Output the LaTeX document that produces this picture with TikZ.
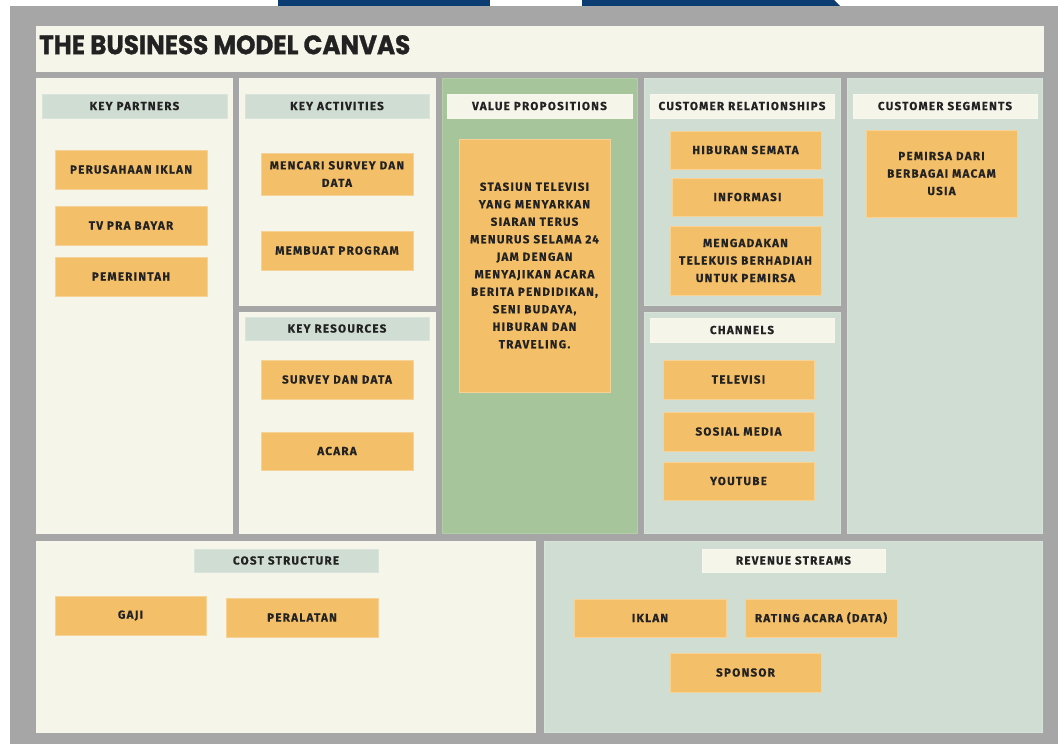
\documentclass[tikz,border=0pt]{standalone}
\usepackage{fontspec}
\usepackage{graphicx}
\newfontfamily\labelfont{Fira Sans}[LetterSpace=11, BoldFeatures={FakeBold=0.4}]
\newfontfamily\titlefont{Poppins}[BoldFeatures={FakeBold=1.2}]
\definecolor{bggray}{HTML}{A6A6A6}
\definecolor{cream}{HTML}{F5F5EA}
\definecolor{vpgreen}{HTML}{A7C59A}
\definecolor{sage}{HTML}{D0DDD3}
\definecolor{cardorange}{HTML}{F4BF69}
\definecolor{navy}{HTML}{0B3D73}
\definecolor{ink}{HTML}{222222}
\tikzset{
  panel/.style={anchor=north west, inner sep=0pt, outer sep=0pt, draw=#1!85!white, line width=0.7pt, fill=#1},
  hdr/.style={anchor=north west, inner sep=0pt, outer sep=0pt, fill=#1, draw=#1!80!white, line width=0.5pt,
    text=ink, font=\labelfont\bfseries\fontsize{11.6}{14}\selectfont},
  card/.style={anchor=north west, inner sep=0pt, outer sep=0pt, fill=cardorange, draw=cardorange!70!white, line width=0.5pt,
    text=ink, align=center, font=\labelfont\bfseries\fontsize{11.6}{17.5}\selectfont},
}
\begin{document}
\begin{tikzpicture}[x=1pt,y=-1pt]
\useasboundingbox (0,0) rectangle (1058,744);
\fill[white] (0,0) rectangle (1058,744);
% top navy tabs
\fill[navy] (278,0) rectangle (490,7);
\fill[navy] (582,0) -- (834,0) -- (841,7) -- (582,7) -- cycle;
% grey board
\fill[bggray] (10,6) rectangle (1058,744);
% title
\node[panel=cream, minimum width=1007pt, minimum height=45pt] (title) at (36,26) {};
\node[anchor=north west, inner sep=0pt, text=ink] (titletext) at (39,35)
  {\resizebox{371pt}{19pt}{\titlefont\bfseries THE BUSINESS MODEL CANVAS}};
% panels
\node[panel=cream, minimum width=196pt, minimum height=455pt] (kp) at (36,78) {};
\node[panel=cream, minimum width=196pt, minimum height=227pt] (ka) at (239,78) {};
\node[panel=cream, minimum width=196pt, minimum height=221pt] (kr) at (239,312) {};
\node[panel=vpgreen, minimum width=195pt, minimum height=455pt] (vp) at (442,78) {};
\node[panel=sage, minimum width=196pt, minimum height=227pt] (cr) at (644,78) {};
\node[panel=sage, minimum width=196pt, minimum height=221pt] (ch) at (644,312) {};
\node[panel=sage, minimum width=195pt, minimum height=455pt] (cs) at (847,78) {};
\node[panel=cream, minimum width=499pt, minimum height=191pt] (cost) at (36,541) {};
\node[panel=sage, minimum width=498pt, minimum height=191pt] (rev) at (544,541) {};
% headers
\node[hdr=sage, minimum width=185pt, minimum height=24pt] (kph) at (42,94) {KEY PARTNERS};
\node[hdr=sage, minimum width=184pt, minimum height=24pt] (kah) at (245,94) {KEY ACTIVITIES};
\node[hdr=cream, minimum width=185pt, minimum height=24pt] (vph) at (447,94) {VALUE PROPOSITIONS};
\node[hdr=cream, minimum width=184pt, minimum height=24pt] (crh) at (650,94) {CUSTOMER RELATIONSHIPS};
\node[hdr=cream, minimum width=184pt, minimum height=24pt] (csh) at (853,94) {CUSTOMER SEGMENTS};
\node[hdr=sage, minimum width=184pt, minimum height=23pt] (krh) at (245,317) {KEY RESOURCES};
\node[hdr=cream, minimum width=184pt, minimum height=24pt] (chh) at (650,318) {CHANNELS};
\node[hdr=sage, minimum width=184pt, minimum height=23pt] (costh) at (194,549) {COST STRUCTURE};
\node[hdr=cream, minimum width=183pt, minimum height=23pt] (revh) at (702,549) {REVENUE STREAMS};
% key partners
\node[card, minimum width=152pt, minimum height=39pt] (kp1) at (55,150) {PERUSAHAAN IKLAN};
\node[card, minimum width=152pt, minimum height=39pt] (kp2) at (55,206) {TV PRA BAYAR};
\node[card, minimum width=152pt, minimum height=39pt] (kp3) at (55,257) {PEMERINTAH};
% key activities
\node[card, minimum width=152pt, minimum height=42pt] (ka1) at (261,153) {MENCARI SURVEY DAN\\DATA};
\node[card, minimum width=152pt, minimum height=39pt] (ka2) at (261,231) {MEMBUAT PROGRAM};
% key resources
\node[card, minimum width=152pt, minimum height=39pt] (kr1) at (261,360) {SURVEY DAN DATA};
\node[card, minimum width=152pt, minimum height=38pt] (kr2) at (261,432) {ACARA};
% value propositions
\node[card, minimum width=151pt, minimum height=253pt] (vp1) at (459,139)
  {STASIUN TELEVISI\\YANG MENYARKAN\\SIARAN TERUS\\MENURUS SELAMA 24\\JAM DENGAN\\MENYAJIKAN ACARA\\BERITA PENDIDIKAN,\\SENI BUDAYA,\\HIBURAN DAN\\TRAVELING.};
% customer relationships
\node[card, minimum width=151pt, minimum height=38pt] (cr1) at (670,131) {HIBURAN SEMATA};
\node[card, minimum width=151pt, minimum height=38pt] (cr2) at (672,178) {INFORMASI};
\node[card, minimum width=151pt, minimum height=69pt] (cr3) at (670,226) {MENGADAKAN\\TELEKUIS BERHADIAH\\UNTUK PEMIRSA};
% channels
\node[card, minimum width=151pt, minimum height=39pt] (ch1) at (663,360) {TELEVISI};
\node[card, minimum width=151pt, minimum height=39pt] (ch2) at (663,412) {SOSIAL MEDIA};
\node[card, minimum width=151pt, minimum height=38pt] (ch3) at (663,462) {YOUTUBE};
% customer segments
\node[card, minimum width=151pt, minimum height=87pt] (cs1) at (866,130) {PEMIRSA DARI\\BERBAGAI MACAM\\USIA};
% cost structure
\node[card, minimum width=151pt, minimum height=39pt] (cost1) at (55,596) {GAJI};
\node[card, minimum width=152pt, minimum height=39pt] (cost2) at (226,598) {PERALATAN};
% revenue streams
\node[card, minimum width=152pt, minimum height=38pt] (rev1) at (574,599) {IKLAN};
\node[card, minimum width=152pt, minimum height=38pt] (rev2) at (745,599) {RATING ACARA (DATA)};
\node[card, minimum width=151pt, minimum height=39pt] (rev3) at (670,653) {SPONSOR};
\end{tikzpicture}
\end{document}
